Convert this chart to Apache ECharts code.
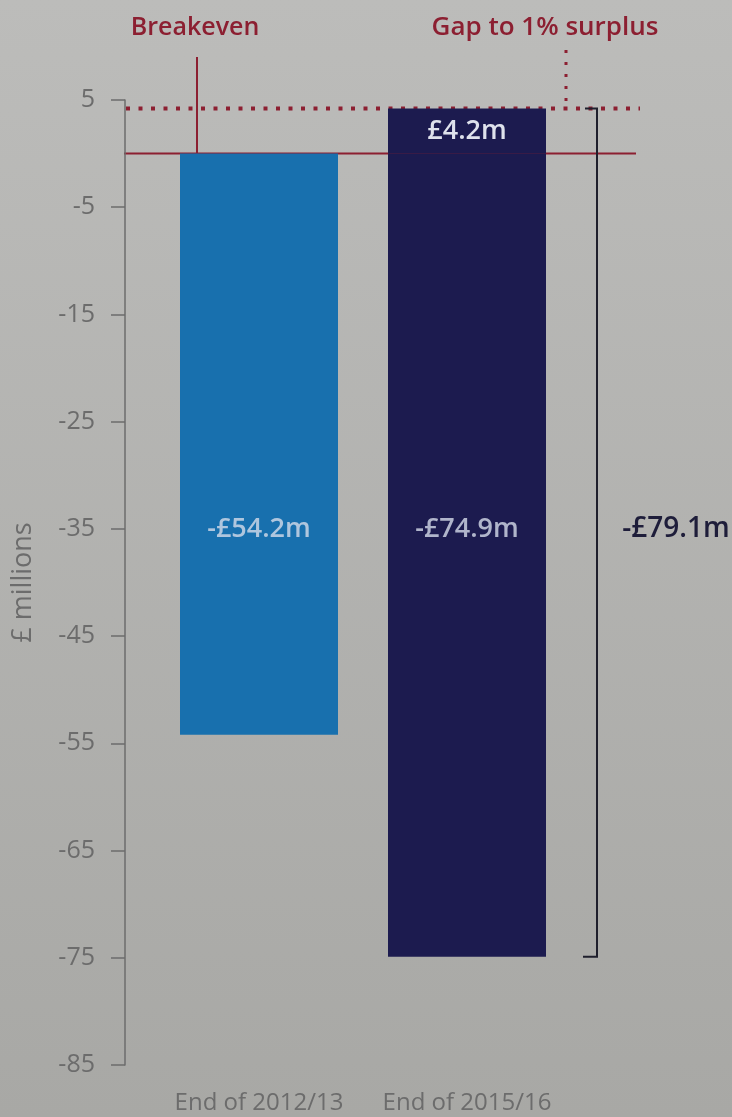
<!DOCTYPE html>
<html>
<head>
<meta charset="utf-8">
<script src="https://cdn.jsdelivr.net/npm/echarts@6/dist/echarts.min.js"></script>
<style>
  html, body { margin: 0; padding: 0; background: #b4b4b2; }
  #chart { width: 732px; height: 1117px; }
</style>
</head>
<body>
<div id="chart"></div>
<script>
// data
const categories = ['End of 2012/13', 'End of 2015/16']
const deficit = [-54.2, -74.9]
const gapToSurplus = ['-', 4.2]
const totalGap = -79.1
const yMin = -85
const yMax = 5
const yStep = 10
const labelLevel = -35

const RED = '#8c1f31'
const NAVY = '#1c1b4f'
const BLUE = '#1870ae'
const GREY = '#6c6c6c'
const FONT = 'Open Sans'

const fmt = v => (v < 0 ? '-£' : '£') + Math.abs(v).toFixed(1) + 'm'

const chart = echarts.init(document.getElementById('chart'))

chart.setOption({
  backgroundColor: new echarts.graphic.LinearGradient(0, 0, 0, 1, [
    { offset: 0, color: '#bcbcba' },
    { offset: 1, color: '#a8a8a5' }
  ]),
  animation: false,
  textStyle: { fontFamily: FONT },
  grid: { left: 155, width: 416, top: 100, bottom: 52 },
  xAxis: {
    type: 'category',
    data: categories,
    axisLine: { show: false },
    axisTick: { show: false },
    axisLabel: { color: GREY, fontSize: 24, margin: 26, interval: 0, hideOverlap: false }
  },
  yAxis: {
    type: 'value',
    min: yMin,
    max: yMax,
    interval: yStep,
    offset: 30,
    name: '£ millions',
    nameLocation: 'middle',
    nameGap: 88,
    nameTextStyle: { color: GREY, fontSize: 27 },
    axisLine: { show: true, lineStyle: { color: GREY, width: 1.5 } },
    axisTick: { show: true, length: 14, lineStyle: { color: GREY, width: 1.5 } },
    axisLabel: { color: GREY, fontSize: 25, margin: 30 },
    splitLine: { show: false }
  },
  series: [
    {
      type: 'bar',
      stack: 'total',
      barWidth: 158,
      data: deficit.map((v, i) => ({
        value: v,
        itemStyle: { color: i === 0 ? BLUE : NAVY }
      }))
    },
    {
      type: 'bar',
      stack: 'total',
      barWidth: 158,
      itemStyle: { color: NAVY },
      label: {
        show: true,
        position: 'inside',
        color: '#dfe2ec',
        fontSize: 27,
        fontWeight: 600,
        formatter: p => fmt(p.value)
      },
      data: gapToSurplus
    },
    {
      // invisible carriers for the deficit labels
      type: 'scatter',
      symbolSize: 0,
      silent: true,
      label: {
        show: true,
        position: 'inside',
        color: '#d6dcea',
        fontSize: 27,
        fontWeight: 600,
        formatter: p => fmt(deficit[p.dataIndex])
      },
      data: deficit.map((v, i) => [i, labelLevel])
    }
  ]
})

// annotations placed from the axis scales
const py = v => chart.convertToPixel({ yAxisIndex: 0 }, v)
const px = i => chart.convertToPixel({ xAxisIndex: 0 }, i)
const y0 = py(0)
const yTop = py(gapToSurplus[1])
const yBottom = py(deficit[1])
const xBr = px(1) + 130

chart.setOption({
  graphic: [
    {
      type: 'line',
      shape: { x1: 124, y1: y0, x2: 636, y2: y0 },
      style: { stroke: RED, lineWidth: 2 }
    },
    {
      type: 'line',
      shape: { x1: 126, y1: yTop, x2: 640, y2: yTop },
      style: { stroke: RED, lineWidth: 4, lineDash: [4, 8.5] }
    },
    {
      type: 'line',
      shape: { x1: px(0) - 62, y1: 57, x2: px(0) - 62, y2: y0 },
      style: { stroke: RED, lineWidth: 2 }
    },
    {
      type: 'line',
      shape: { x1: xBr - 31, y1: 50, x2: xBr - 31, y2: yTop },
      style: { stroke: RED, lineWidth: 3, lineDash: [3, 9] }
    },
    {
      type: 'polyline',
      shape: { points: [[xBr - 12, yTop], [xBr, yTop], [xBr, yBottom], [xBr - 14, yBottom]] },
      style: { stroke: '#1f1f2c', lineWidth: 2, fill: null }
    },
    {
      type: 'text',
      x: 195, y: 28,
      style: { text: 'Breakeven', fill: RED, fontSize: 25, fontWeight: 600, fontFamily: FONT, align: 'center', verticalAlign: 'middle' }
    },
    {
      type: 'text',
      x: 545, y: 28,
      style: { text: 'Gap to 1% surplus', fill: RED, fontSize: 26, fontWeight: 600, fontFamily: FONT, align: 'center', verticalAlign: 'middle' }
    },
    {
      type: 'text',
      x: 676, y: py(labelLevel),
      style: { text: fmt(totalGap), fill: '#1e1d3a', fontSize: 28, fontWeight: 600, fontFamily: FONT, align: 'center', verticalAlign: 'middle' }
    }
  ]
})
</script>
</body>
</html>
